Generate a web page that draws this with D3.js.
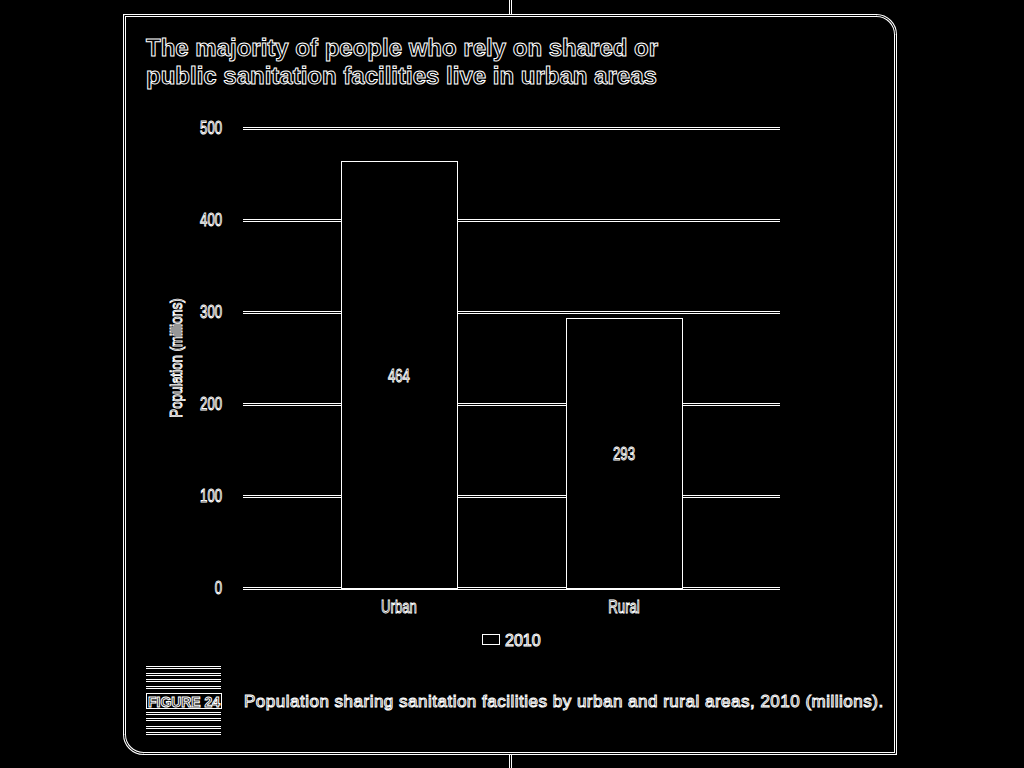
<!DOCTYPE html>
<html>
<head>
<meta charset="utf-8">
<script src="https://cdn.jsdelivr.net/npm/d3@7"></script>
<style>
  html, body { margin: 0; padding: 0; background: #000; }
  svg { display: block; }
</style>
</head>
<body>
<svg id="chart" width="1024" height="768"></svg>
<script>
const categories = ["Urban", "Rural"];
const values2010 = [464, 293];
const yTicks = [0, 100, 200, 300, 400, 500];
const seriesName = "2010";
const titleLines = ["The majority of people who rely on shared or", "public sanitation facilities live in urban areas"];
const yLabel = "Population (millions)";
const figureLabel = "FIGURE 24";
const caption = "Population sharing sanitation facilities by urban and rural areas, 2010 (millions).";

const svg = d3.select("#chart");
const sans = "'Liberation Sans', Arial, sans-serif";

function outlineText(sel) {
  return sel.attr("fill", "#000").attr("stroke", "#fff").attr("stroke-width", 1);
}
// emulate a condensed face by compressing glyphs horizontally
function narrow(sel, factor) {
  sel.each(function () {
    const len = this.getComputedTextLength();
    d3.select(this).attr("textLength", len * factor).attr("lengthAdjust", "spacingAndGlyphs");
  });
  return sel;
}

// helper: outlined thick line (white 3px with black 1px core)
function outlined(sel, dAttr) {
  sel.append("path").attr("d", dAttr).attr("fill", "none").attr("stroke", "#fff").attr("stroke-width", 3);
  sel.append("path").attr("d", dAttr).attr("fill", "none").attr("stroke", "#000").attr("stroke-width", 1);
}

// frame
const fx0 = 124.5, fx1 = 895.5, fy0 = 15.5, fy1 = 753.5, r = 19;
const framePath = `M${fx0},${fy0} L${fx1 - r},${fy0} A${r},${r} 0 0 1 ${fx1},${fy0 + r} L${fx1},${fy1} L${fx0 + r},${fy1} A${r},${r} 0 0 1 ${fx0},${fy1 - r} Z`;
outlined(svg, framePath);
outlined(svg, `M510.5,0 L510.5,${fy0 - 1.5}`);
outlined(svg, `M510.5,${fy1 + 1.5} L510.5,768`);

// title
const title = outlineText(svg.append("text").attr("font-family", sans).attr("font-weight", "bold").attr("font-size", 24));
titleLines.forEach((t, i) => title.append("tspan").attr("x", 146).attr("y", 56 + i * 28).text(t));

// scales
const x = d3.scaleBand().domain(categories).range([243, 780]).paddingInner(0.484).paddingOuter(0.435);
const y = d3.scaleLinear().domain([0, 500]).range([588, 128]);

// gridlines
const grid = svg.append("g");
yTicks.forEach(t => outlined(grid, `M243,${Math.round(y(t)) + 0.5} L780,${Math.round(y(t)) + 0.5}`));

// y axis labels
const yAxis = d3.axisLeft(y).tickValues(yTicks).tickSize(0).tickPadding(21).tickFormat(d3.format("d"));
const ga = svg.append("g").attr("transform", "translate(243,0)").call(yAxis);
ga.select(".domain").remove();
narrow(outlineText(ga.selectAll("text").attr("font-family", sans).attr("font-size", 18)), 0.73);

narrow(outlineText(svg.append("text").attr("transform", "translate(182,358) rotate(-90)").attr("text-anchor", "middle")
  .attr("font-family", sans).attr("font-size", 17).text(yLabel)), 0.78);

// bars
const data = categories.map((c, i) => ({ c, v: values2010[i] }));
svg.append("g").selectAll("rect").data(data).join("rect")
  .attr("x", d => Math.round(x(d.c)) + 0.5).attr("width", Math.round(x.bandwidth()))
  .attr("y", d => Math.round(y(d.v)) + 0.5).attr("height", d => Math.round(y(0) - y(d.v)))
  .attr("fill", "#000").attr("stroke", "#fff").attr("stroke-width", 1);

// value labels
narrow(outlineText(svg.append("g").selectAll("text").data(data).join("text")
  .attr("x", d => x(d.c) + x.bandwidth() / 2)
  .attr("y", d => (y(d.v) + y(0)) / 2 + 7)
  .attr("text-anchor", "middle").attr("font-family", sans).attr("font-size", 18)
  .text(d => d.v)), 0.73);

// category labels
const xAxis = d3.axisBottom(x).tickSize(0).tickPadding(12);
const gx = svg.append("g").attr("transform", `translate(0,${y(0)})`).call(xAxis);
gx.select(".domain").remove();
narrow(outlineText(gx.selectAll("text").attr("font-family", sans).attr("font-size", 18)), 0.73);

// legend
svg.append("rect").attr("x", 482.5).attr("y", 634.5).attr("width", 17).attr("height", 10)
  .attr("fill", "#000").attr("stroke", "#fff");
outlineText(svg.append("text").attr("x", 505).attr("y", 646).attr("font-family", sans).attr("font-size", 16).text(seriesName));

// figure block
const stripes = svg.append("g");
[667.5, 674.5, 680.5, 687.5, 713.5, 719.5, 727.5, 733.5].forEach(sy => outlined(stripes, `M146,${sy} L221,${sy}`));
svg.append("rect").attr("x", 146.5).attr("y", 693.5).attr("width", 75).attr("height", 15)
  .attr("fill", "#000").attr("stroke", "#fff");
outlineText(svg.append("text").attr("x", 184).attr("y", 706.5).attr("text-anchor", "middle")
  .attr("font-family", sans).attr("font-weight", "bold").attr("font-size", 14).attr("textLength", 72)
  .attr("lengthAdjust", "spacingAndGlyphs").text(figureLabel));

// caption
outlineText(svg.append("text").attr("x", 244).attr("y", 707).attr("font-family", sans).attr("font-size", 17)
  .attr("letter-spacing", 0.5).text(caption));
</script>
</body>
</html>
